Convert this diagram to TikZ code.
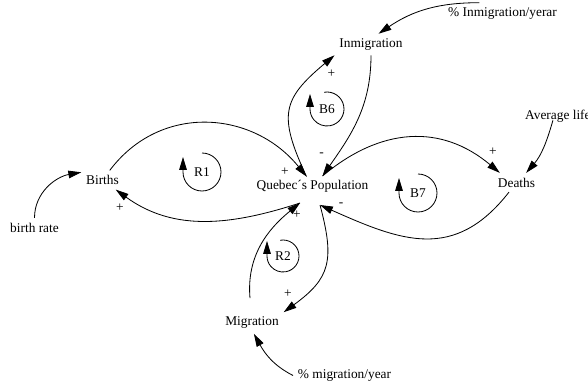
\documentclass[tikz,border=0pt]{standalone}
\usepackage{fontspec}
\setmainfont{Liberation Serif}
\usetikzlibrary{arrows.meta}

\begin{document}
\begin{tikzpicture}[x=0.03cm, y=0.03cm,
    var/.style={inner sep=4pt, font=\fontsize{11.4}{13}\selectfont},
    sign/.style={inner sep=0pt, font=\fontsize{11.4}{13}\selectfont},
    link/.style={-{Triangle[length=11pt,width=6.5pt]}, line width=0.7pt},
    loopsym/.style={-{Triangle[length=11pt,width=6.5pt]}, line width=0.7pt}]
    \useasboundingbox (0,0) rectangle (588,387);
    \clip (0,0) rectangle (588,387);

    % variables
    \node[var] (q) at (312.5,200.5) {Quebec´s Population};
    \node[var] (births) at (102.5,207) {Births};
    \node[var] (br) at (34.5,159.5) {birth rate};
    \node[var] (inm) at (371,342.5) {Inmigration};
    \node[var] (pinm) at (502.5,373.5) {\% Inmigration/yerar};
    \node[var] (deaths) at (516.5,204.5) {Deaths};
    \node[var, anchor=west] (avg) at (520.3,271) {Average life};
    \node[var] (mig) at (252,64) {Migration};
    \node[var] (pmig) at (344.5,11.5) {\% migration/year};

    % links
    \draw[link] (births) to[out=53, in=129, looseness=1.1] ([shift={(-6,10)}]q.center);
    \draw[link] ([shift={(-12.5,-16.5)}]q.center) to[out=198, in=-36] (births);
    \draw[link] (br) to[out=90, in=190] (births.160);
    \draw[link] (inm) to[out=-90, in=55] ([shift={(10,10.5)}]q.center);
    \draw[link] ([shift={(-6,10)}]q.center) to[out=115, in=220, looseness=1.4] (inm.south west);
    \draw[link] (pinm.155) to[out=180, in=34] (inm.55);
    \draw[link] ([shift={(10,10.5)}]q.center) to[out=40, in=140, looseness=1.1] (deaths.150);
    \draw[link] (deaths) to[out=232, in=-24, looseness=1.2] ([shift={(7.5,-18.5)}]q.center);
    \draw[link] ([shift={(-5,6.7)}]avg.south) to[out=254, in=49] (deaths.45);
    \draw[link] ([shift={(-2,14)}]mig.north) to[out=95, in=219] ([shift={(-12.5,-16.5)}]q.center);
    \draw[link] ([shift={(7.5,-18.5)}]q.center) to[out=-75, in=36, looseness=1.3] (mig.north east);
    \draw[link] (pmig.west) to[out=153, in=299] (mig.-80);

    % polarities
    \node[sign] (s1) at (285,215) {+};
    \node[sign] (s2) at (120,179) {+};
    \node[sign] (s3) at (321.5,232) {-};
    \node[sign] (s4) at (331.5,313) {+};
    \node[sign] (s5) at (493,235) {+};
    \node[sign] (s6) at (341,182) {-};
    \node[sign] (s7) at (297,172) {+};
    \node[sign] (s8) at (288,93) {+};

    % loops
    \node[var] (r1) at (202,215) {R1};
    \node[var] (b6) at (327,278) {B6};
    \node[var] (b7) at (418,194) {B7};
    \node[var] (r2) at (283,131) {R2};
    \draw[loopsym] ([shift={(90:19)}]r1.center) arc[start angle=90, end angle=-180, radius=19] -- ++(0,15);
    \draw[loopsym] ([shift={(100:17)}]b6.center) arc[start angle=100, end angle=-180, radius=17] -- ++(0,15);
    \draw[loopsym] ([shift={(90:19)}]b7.center) arc[start angle=90, end angle=-180, radius=19] -- ++(0,15);
    \draw[loopsym] ([shift={(100:16)}]r2.center) arc[start angle=100, end angle=-180, radius=16] -- ++(0,15);

\end{tikzpicture}
\end{document}
